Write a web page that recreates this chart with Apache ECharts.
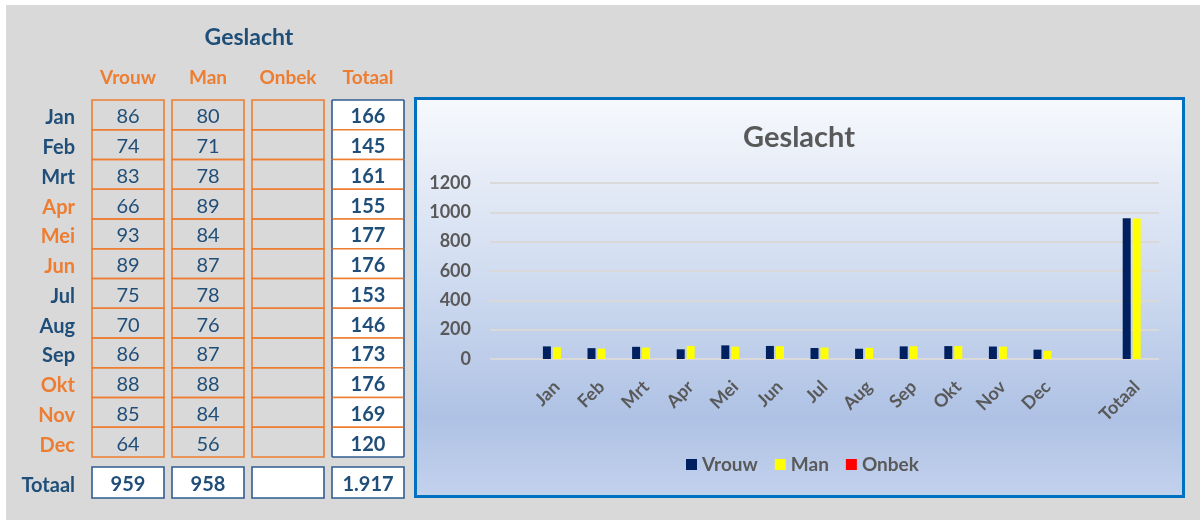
<!DOCTYPE html>
<html>
<head>
<meta charset="utf-8">
<script src="https://cdn.jsdelivr.net/npm/echarts@6/dist/echarts.min.js"></script>
<style>
  html, body { margin: 0; padding: 0; background: #ffffff; }
  #main { position: absolute; left: 0; top: 0; width: 1200px; height: 520px; background: #D9D9D9; }
  #wt { position: absolute; left: 0; top: 0; width: 1200px; height: 5px; background: #fff; z-index: 5; }
  #wl { position: absolute; left: 0; top: 0; width: 6px; height: 520px; background: #fff; z-index: 5; }
</style>
</head>
<body>
<div id="main"></div>
<div id="wt"></div>
<div id="wl"></div>
<script>
// ---- data ----
const months = ['Jan','Feb','Mrt','Apr','Mei','Jun','Jul','Aug','Sep','Okt','Nov','Dec'];
const orangeMonths = ['Apr','Mei','Jun','Okt','Nov','Dec'];
const columnHeads = ['Vrouw','Man','Onbek','Totaal'];
const vrouw = [86,74,83,66,93,89,75,70,86,88,85,64];
const man = [80,71,78,89,84,87,78,76,87,88,84,56];
const onbek = [null,null,null,null,null,null,null,null,null,null,null,null];
const rowTotals = [166,145,161,155,177,176,153,146,173,176,169,120];
const totalLabel = 'Totaal';
const vrouwTotal = 959;
const manTotal = 958;
const onbekTotal = null;
const grandTotalText = '1.917';
const chartCategories = ['', ...months, ' ', 'Totaal'];
const yTickMin = 0, yTickMax = 1200, yTickStep = 200;

// ---- styling ----
const FONT = 'Lato, "Open Sans", sans-serif';
const NAVY_TXT = '#1F4E79';
const ORANGE = '#ED7D31';
const GREY = '#595959';
const BORDER_BLUE = '#2F5C8F';

// table cells for the monthly block
const monthCells = [];
months.forEach((m, i) => {
  monthCells.push({ value: [0, i], text: vrouw[i] == null ? '' : String(vrouw[i]), kind: 'plain' });
  monthCells.push({ value: [1, i], text: man[i] == null ? '' : String(man[i]), kind: 'plain' });
  monthCells.push({ value: [2, i], text: onbek[i] == null ? '' : String(onbek[i]), kind: 'plain' });
  monthCells.push({ value: [3, i], text: String(rowTotals[i]), kind: 'total' });
});
const totalCells = [
  { value: [0, 0], text: String(vrouwTotal) },
  { value: [1, 0], text: String(manTotal) },
  { value: [2, 0], text: onbekTotal == null ? '' : String(onbekTotal) },
  { value: [3, 0], text: grandTotalText }
];

function monthCellRender(params, api) {
  const item = monthCells[params.dataIndex];
  const j = api.value(0), i = api.value(1);
  const c = api.coord([j, i]);
  const s = api.size([1, 1]);
  const w = s[0] - 8, h = s[1];
  const x = c[0] - w / 2, y = c[1] - h / 2;
  const children = [];
  if (item.kind === 'plain') {
    children.push({ type: 'rect', shape: { x: x, y: y, width: w, height: h },
      style: { fill: 'none', stroke: ORANGE, lineWidth: 1.6 } });
    children.push({ type: 'text', style: { x: c[0], y: c[1] + 2, text: item.text, align: 'center', verticalAlign: 'middle',
      fill: NAVY_TXT, font: '20px ' + FONT } });
  } else {
    children.push({ type: 'rect', shape: { x: x, y: y, width: w, height: h }, style: { fill: '#ffffff' } });
    children.push({ type: 'line', shape: { x1: x, y1: y, x2: x + w, y2: y },
      style: { stroke: i === 0 ? BORDER_BLUE : ORANGE, lineWidth: 1.6 } });
    children.push({ type: 'line', shape: { x1: x, y1: y + h, x2: x + w, y2: y + h },
      style: { stroke: i === months.length - 1 ? BORDER_BLUE : ORANGE, lineWidth: 1.6 } });
    children.push({ type: 'line', shape: { x1: x, y1: y, x2: x, y2: y + h }, style: { stroke: BORDER_BLUE, lineWidth: 1.6 } });
    children.push({ type: 'line', shape: { x1: x + w, y1: y, x2: x + w, y2: y + h }, style: { stroke: BORDER_BLUE, lineWidth: 1.6 } });
    children.push({ type: 'text', style: { x: c[0], y: c[1] + 2, text: item.text, align: 'center', verticalAlign: 'middle',
      fill: NAVY_TXT, font: 'bold 20px ' + FONT } });
  }
  return { type: 'group', children: children };
}

function totalCellRender(params, api) {
  const item = totalCells[params.dataIndex];
  const j = api.value(0), i = api.value(1);
  const c = api.coord([j, i]);
  const s = api.size([1, 1]);
  const w = s[0] - 8, h = s[1];
  const x = c[0] - w / 2, y = c[1] - h / 2;
  return { type: 'group', children: [
    { type: 'rect', shape: { x: x, y: y, width: w, height: h }, style: { fill: '#ffffff', stroke: BORDER_BLUE, lineWidth: 1.6 } },
    { type: 'text', style: { x: c[0], y: c[1] + 2, text: item.text, align: 'center', verticalAlign: 'middle',
      fill: NAVY_TXT, font: 'bold 20px ' + FONT } }
  ] };
}

const rowLabelRich = {
  s: { lineHeight: 6, fontSize: 6 },
  b: { fontFamily: FONT, fontSize: 20, fontWeight: 'bold', lineHeight: 22, color: NAVY_TXT },
  o: { fontFamily: FONT, fontSize: 20, fontWeight: 'bold', lineHeight: 22, color: ORANGE }
};
function rowLabel(v) {
  const st = orangeMonths.indexOf(v) >= 0 ? 'o' : 'b';
  return '{s|}\n{' + st + '|' + v + '}';
}

const chart = echarts.init(document.getElementById('main'), null, { renderer: 'canvas' });

const option = {
  backgroundColor: 'transparent',
  animation: false,
  textStyle: { fontFamily: FONT },
  graphic: [
    { type: 'rect', z: -10, shape: { x: 415.5, y: 98.5, width: 768, height: 398 },
      style: {
        fill: new echarts.graphic.LinearGradient(0, 0, 0, 1, [
          { offset: 0, color: '#F7F9FD' },
          { offset: 0.5, color: '#CBD8EE' },
          { offset: 0.8, color: '#AFC2E5' },
          { offset: 1, color: '#C3D2ED' }
        ]),
        stroke: '#0070C0', lineWidth: 3
      } }
  ],
  title: [
    { text: 'Geslacht', left: 249, top: 26, textAlign: 'center', padding: 0,
      textStyle: { fontFamily: FONT, fontSize: 23, fontWeight: 'bold', color: NAVY_TXT } },
    { text: 'Geslacht', left: 799, top: 123, textAlign: 'center', padding: 0,
      textStyle: { fontFamily: FONT, fontSize: 29, fontWeight: 'bold', color: GREY } }
  ],
  legend: {
    data: ['Vrouw', 'Man', 'Onbek'],
    left: 686, top: 455, padding: 0,
    icon: 'rect', itemWidth: 11, itemHeight: 11, itemGap: 17,
    textStyle: { fontFamily: FONT, fontSize: 19, fontWeight: 'bold', color: GREY, padding: [0, 0, 0, 0] },
    selectedMode: false
  },
  grid: [
    { left: 88, top: 100, width: 320, height: 357 },
    { left: 88, top: 467, width: 320, height: 31 },
    { left: 490, top: 183, width: 669, height: 176 }
  ],
  xAxis: [
    { gridIndex: 0, type: 'category', data: columnHeads, position: 'top',
      axisLine: { show: false }, axisTick: { show: false }, splitLine: { show: false },
      axisLabel: { margin: 13, fontFamily: FONT, fontSize: 19, fontWeight: 'bold', color: ORANGE } },
    { gridIndex: 1, type: 'category', data: columnHeads, show: false },
    { gridIndex: 2, type: 'category', data: chartCategories,
      axisLine: { show: false }, axisTick: { show: false }, splitLine: { show: false },
      axisLabel: { interval: 0, rotate: 45, margin: 25, fontFamily: FONT, fontSize: 18, fontWeight: 'bold', color: GREY } }
  ],
  yAxis: [
    { gridIndex: 0, type: 'category', data: months, inverse: true,
      axisLine: { show: false }, axisTick: { show: false }, splitLine: { show: false },
      axisLabel: { interval: 0, margin: 13, formatter: rowLabel, rich: rowLabelRich } },
    { gridIndex: 1, type: 'category', data: [totalLabel],
      axisLine: { show: false }, axisTick: { show: false }, splitLine: { show: false },
      axisLabel: { interval: 0, margin: 13, formatter: rowLabel, rich: rowLabelRich } },
    { gridIndex: 2, type: 'value', min: yTickMin, max: yTickMax, interval: yTickStep,
      axisLine: { show: false }, axisTick: { show: false },
      splitLine: { show: true, lineStyle: { color: '#D9D9D9', width: 2 } },
      axisLabel: { margin: 19, fontFamily: FONT, fontSize: 18, fontWeight: 'bold', color: GREY,
        formatter: function (v) { return String(v); } } }
  ],
  series: [
    { type: 'custom', name: 'tabel', xAxisIndex: 0, yAxisIndex: 0, data: monthCells.map(d => d.value),
      renderItem: monthCellRender, silent: true },
    { type: 'custom', name: 'totalen', xAxisIndex: 1, yAxisIndex: 1, data: totalCells.map(d => d.value),
      renderItem: totalCellRender, silent: true },
    { type: 'bar', name: 'Vrouw', xAxisIndex: 2, yAxisIndex: 2, barWidth: 8, barGap: '25%',
      itemStyle: { color: '#002060' }, data: [null, ...vrouw, null, vrouwTotal] },
    { type: 'bar', name: 'Man', xAxisIndex: 2, yAxisIndex: 2, barWidth: 8, barGap: '25%',
      itemStyle: { color: '#FFFF00' }, data: [null, ...man, null, manTotal] },
    { type: 'bar', name: 'Onbek', xAxisIndex: 2, yAxisIndex: 2, barWidth: 8, barGap: '25%',
      itemStyle: { color: '#FF0000' }, data: [null, ...onbek, null, onbekTotal] }
  ]
};
chart.setOption(option);
</script>
</body>
</html>
